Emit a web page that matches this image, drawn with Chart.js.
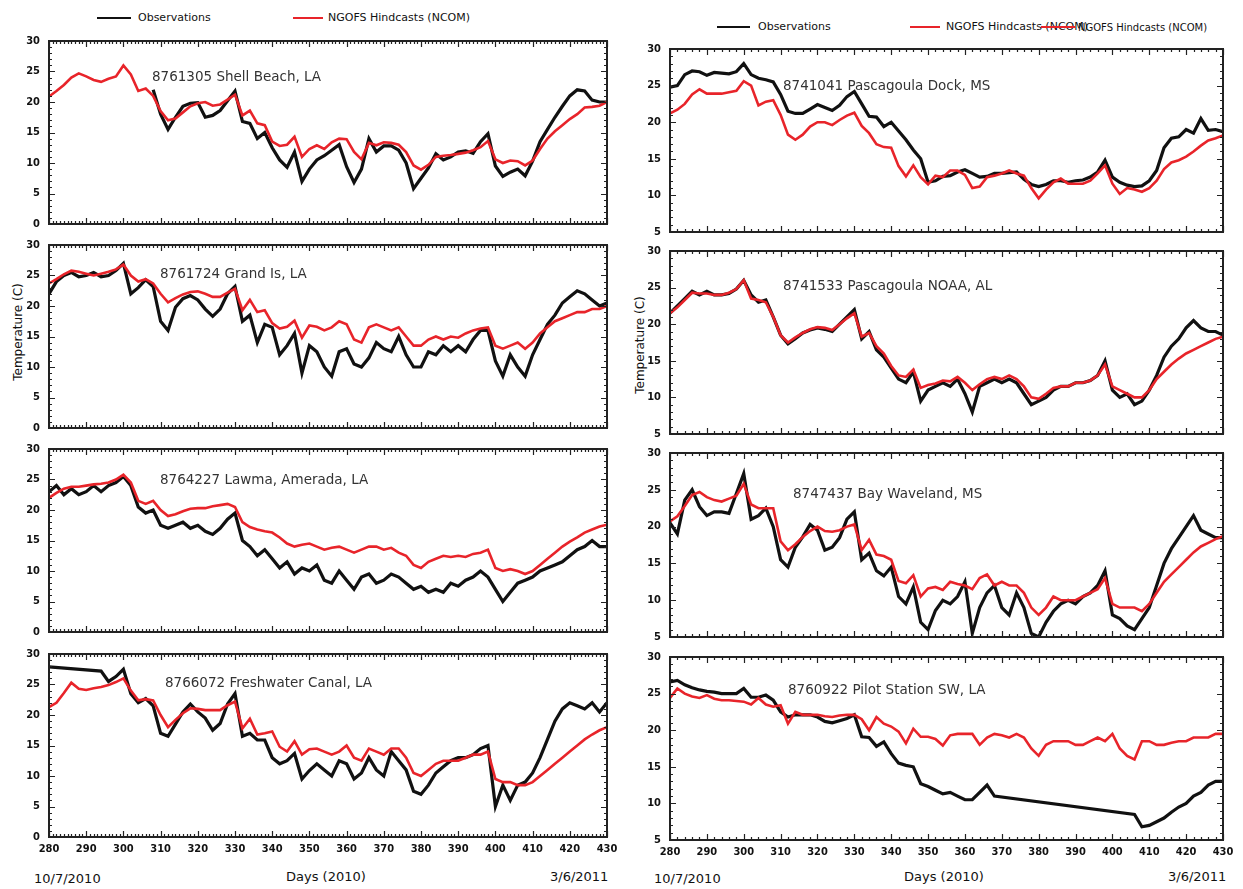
<!DOCTYPE html>
<html>
<head>
<meta charset="utf-8">
<script src="https://cdn.jsdelivr.net/npm/chart.js@4.4.1/dist/chart.umd.min.js"></script>
<style>
  html, body { margin:0; padding:0; background:#fff; }
  body { width:1243px; height:889px; position:relative; overflow:hidden; font-family:"DejaVu Sans",sans-serif; color:#111; }
  .lg-line { position:absolute; height:2px; }
  .lg-txt { position:absolute; font-size:11px; line-height:14px; white-space:nowrap; }
  .bot { position:absolute; font-size:13px; line-height:15px; white-space:nowrap; }
  .ytitle { position:absolute; font-size:12px; line-height:14px; white-space:nowrap; transform:translate(-50%,-50%) rotate(-90deg); }
  canvas { position:absolute; }
</style>
</head>
<body>
<div class="lg-line" style="left:97px;top:17px;width:34px;background:#111"></div>
<div class="lg-txt" style="left:138px;top:11px">Observations</div>
<div class="lg-line" style="left:293px;top:17px;width:30px;background:#e8242a"></div>
<div class="lg-txt" style="left:328px;top:11px">NGOFS Hindcasts (NCOM)</div>

<div class="lg-line" style="left:717px;top:26px;width:33px;background:#111"></div>
<div class="lg-txt" style="left:758px;top:20px">Observations</div>
<div class="lg-line" style="left:910px;top:26px;width:30px;background:#e8242a"></div>
<div class="lg-txt" style="left:946px;top:20px">NGOFS Hindcasts (NCOM)</div>
<div class="lg-line" style="left:1041px;top:26px;width:34px;background:#e8242a"></div>
<div class="lg-txt" style="left:1078px;top:21px;font-size:10px">NGOFS Hindcasts (NCOM)</div>

<div class="ytitle" style="left:18px;top:332px">Temperature (C)</div>
<div class="ytitle" style="left:640px;top:345px">Temperature (C)</div>

<div class="bot" style="left:34px;top:871px">10/7/2010</div>
<div class="bot" style="left:286px;top:869px">Days (2010)</div>
<div class="bot" style="left:550px;top:869px">3/6/2011</div>
<div class="bot" style="left:654px;top:871px">10/7/2010</div>
<div class="bot" style="left:904px;top:869px">Days (2010)</div>
<div class="bot" style="left:1168px;top:869px">3/6/2011</div>

<script>
// ---- categories: day of year (2010), every 2 days ----
const days = [280,282,284,286,288,290,292,294,296,298,300,302,304,306,308,310,312,314,316,318,
  320,322,324,326,328,330,332,334,336,338,340,342,344,346,348,350,352,354,356,358,
  360,362,364,366,368,370,372,374,376,378,380,382,384,386,388,390,392,394,396,398,
  400,402,404,406,408,410,412,414,416,418,420,422,424,426,428,430];
const xTicks = [280,290,300,310,320,330,340,350,360,370,380,390,400,410,420,430];

// ---- 8761305 Shell Beach, LA ----
const shellObs = [null,null,null,null,null,null,null,null,null,null,null,null,null,null,
  22.0,18.0,15.5,17.5,19.3,19.8,19.9,17.5,17.8,18.6,20.2,21.8,16.8,16.5,14.0,15.0,
  12.5,10.5,9.3,11.8,7.0,9.0,10.5,11.2,12.1,13.0,9.4,6.8,9.0,14.0,11.8,12.8,12.8,12.1,10.0,5.8,
  7.5,9.2,11.5,10.5,11.0,11.8,12.0,11.6,13.5,14.8,9.5,7.8,8.5,9.0,7.9,10.3,13.5,15.5,17.5,19.3,
  21.0,22.0,21.8,20.3,20.0,20.0];
const shellMod = [20.9,21.8,22.8,24.0,24.7,24.2,23.6,23.3,23.8,24.2,26.0,24.5,21.8,22.2,21.0,18.5,17.0,17.3,18.3,19.3,
  19.8,20.0,19.4,19.6,20.4,21.2,17.8,18.6,16.5,16.2,13.5,12.8,13.0,14.3,11.0,12.3,12.9,12.3,13.4,14.0,
  13.9,11.8,10.6,13.3,12.9,13.4,13.3,13.0,11.8,9.6,8.9,9.7,11.0,11.2,11.3,11.5,11.7,12.1,12.6,13.6,
  10.6,10.0,10.4,10.3,9.6,10.4,12.3,14.0,15.2,16.2,17.2,18.0,19.1,19.2,19.4,20.0];

// ---- 8761724 Grand Is, LA ----
const grandObs = [22.0,24.0,25.0,25.5,24.8,25.0,25.5,24.8,25.0,25.8,27.0,22.0,23.0,24.3,23.2,17.5,16.0,19.8,21.2,21.7,
  21.0,19.5,18.3,19.5,22.0,23.2,17.5,18.5,14.0,17.0,16.5,12.0,13.5,15.5,9.0,13.5,12.5,10.0,8.5,12.5,
  13.0,10.5,10.0,11.5,14.0,13.0,12.5,15.0,12.0,10.0,10.0,12.5,12.0,13.5,12.5,13.5,12.5,14.5,16.0,16.0,
  11.0,8.5,12.0,10.0,8.5,12.0,14.5,17.0,18.5,20.5,21.5,22.5,22.0,21.0,20.0,20.5];
const grandMod = [23.7,24.4,25.2,25.8,25.6,25.3,25.0,25.3,25.6,26.0,26.8,25.0,24.0,24.4,23.7,22.0,20.6,21.3,21.9,22.3,
  22.4,22.0,21.5,21.5,22.2,22.8,19.3,21.0,19.0,19.3,17.2,16.3,16.6,17.6,14.8,16.8,16.6,16.0,16.5,17.5,
  17.0,14.5,14.0,16.5,17.0,16.5,16.0,16.5,15.0,13.5,13.5,14.5,15.0,14.5,15.0,14.8,15.5,16.0,16.3,16.5,
  13.5,13.0,13.5,14.0,13.0,14.0,15.5,16.5,17.5,18.0,18.5,19.0,19.0,19.5,19.5,20.0];

// ---- 8764227 Lawma, Amerada, LA ----
const lawmaObs = [23.0,24.0,22.5,23.5,22.5,23.0,24.0,23.0,24.0,24.5,25.5,24.0,20.5,19.5,20.0,17.5,17.0,17.5,18.0,17.0,
  17.5,16.5,16.0,17.0,18.5,19.5,15.0,14.0,12.5,13.5,12.0,10.5,11.5,9.5,10.5,10.0,11.0,8.5,8.0,10.0,
  8.5,7.0,9.0,9.5,8.0,8.5,9.5,9.0,8.0,7.0,7.5,6.5,7.0,6.5,8.0,7.5,8.5,9.0,10.0,9.0,
  7.0,5.0,6.5,8.0,8.5,9.0,10.0,10.5,11.0,11.5,12.5,13.5,14.0,15.0,14.0,14.0];
const lawmaMod = [22.0,22.8,23.5,23.8,23.8,24.0,24.2,24.3,24.5,25.0,25.8,24.5,21.5,21.0,21.5,20.0,19.0,19.3,19.8,20.2,
  20.3,20.3,20.6,20.8,21.0,20.5,18.0,17.2,16.8,16.5,16.3,15.5,14.5,14.0,14.3,14.5,14.0,13.5,13.8,14.0,
  13.5,13.0,13.5,14.0,14.0,13.5,13.8,13.0,12.5,11.0,10.5,11.5,12.0,12.5,12.3,12.5,12.3,12.8,13.0,13.5,
  10.5,10.0,10.3,10.0,9.5,10.0,11.0,12.0,13.0,14.0,14.8,15.5,16.3,16.8,17.3,17.6];

// ---- 8766072 Freshwater Canal, LA ----
const freshObs = [27.9,null,null,null,null,null,null,27.2,25.5,26.3,27.5,23.5,22.0,22.7,21.5,17.0,16.5,18.5,20.5,21.8,
  20.5,19.5,17.5,18.6,21.8,23.5,16.5,17.0,15.9,15.9,13.0,12.0,12.5,13.7,9.5,10.9,12.0,11.0,10.0,12.5,
  12.0,9.5,10.5,13.0,11.0,10.0,14.0,12.5,11.0,7.5,7.0,8.5,10.5,11.5,12.5,13.0,13.0,13.5,14.5,15.0,
  5.0,8.5,6.0,8.5,9.0,10.5,13.0,16.0,19.0,21.0,22.0,21.5,21.0,22.0,20.5,22.0];
const freshMod = [21.3,22.0,23.6,25.3,24.3,24.1,24.4,24.6,24.9,25.4,26.0,24.0,22.4,22.6,22.4,20.0,18.0,19.2,20.3,21.1,
  21.0,20.8,20.8,20.8,21.6,22.2,17.8,19.4,16.8,17.0,17.3,14.8,14.0,15.7,13.5,14.4,14.5,14.0,13.5,14.0,
  15.0,13.0,12.5,14.5,14.0,13.5,14.5,14.5,13.0,10.5,10.0,11.0,12.0,12.5,12.5,12.5,13.0,13.5,13.5,14.0,
  9.5,9.0,9.0,8.5,8.5,9.0,10.0,11.0,12.0,13.0,14.0,15.0,16.0,16.8,17.5,18.0];

// ---- 8741041 Pascagoula Dock, MS ----
const dockObs = [24.8,25.0,26.5,27.0,26.9,26.4,26.8,26.7,26.6,26.9,28.0,26.5,26.0,25.8,25.5,23.8,21.5,21.2,21.2,21.8,
  22.4,22.0,21.6,22.3,23.5,24.2,22.5,20.8,20.7,19.4,20.0,18.8,17.6,16.2,15.0,11.8,12.0,12.6,12.7,13.2,
  13.5,13.0,12.5,12.6,13.0,13.0,13.1,13.2,12.2,11.5,11.2,11.5,12.0,12.0,11.8,12.0,12.1,12.5,13.2,14.8,
  12.5,11.8,11.4,11.2,11.3,12.0,13.4,16.5,17.8,18.0,19.0,18.5,20.5,18.9,19.0,18.7];
const dockMod = [21.2,21.7,22.5,23.8,24.5,23.9,23.9,23.9,24.1,24.3,25.6,25.0,22.3,22.8,23.0,21.0,18.3,17.6,18.3,19.4,
  20.0,20.0,19.6,20.3,20.9,21.3,19.5,18.5,17.0,16.6,16.5,14.0,12.6,14.1,12.5,11.5,12.7,12.5,13.4,13.4,
  12.8,11.0,11.2,12.5,12.7,13.0,13.4,13.0,12.7,11.0,9.6,10.8,11.8,12.3,11.6,11.6,11.6,12.0,13.0,14.1,
  11.6,10.2,11.0,10.8,10.5,11.0,12.0,13.6,14.5,14.8,15.3,16.0,16.8,17.5,17.8,18.2];

// ---- 8741533 Pascagoula NOAA, AL ----
const noaaObs = [21.5,22.5,23.5,24.5,24.0,24.5,24.0,24.0,24.2,24.8,26.0,24.0,23.0,23.3,21.0,18.5,17.3,18.0,18.8,19.2,
  19.5,19.3,19.0,20.0,21.0,22.0,18.0,19.0,16.5,15.5,14.0,12.5,12.0,13.5,9.5,11.0,11.5,12.0,11.5,12.5,
  10.5,8.0,11.5,12.0,12.5,12.0,12.5,12.0,10.5,9.0,9.5,10.0,11.0,11.5,11.5,12.0,12.0,12.3,13.0,15.0,
  11.0,10.0,10.5,9.0,9.5,11.0,13.0,15.5,17.0,18.0,19.5,20.5,19.5,19.0,19.0,18.5];
const noaaMod = [21.5,22.3,23.3,24.3,24.2,24.2,24.0,24.0,24.3,24.8,26.0,23.5,23.3,23.0,21.0,18.5,17.5,18.2,18.8,19.3,
  19.6,19.5,19.2,20.0,20.8,21.5,18.3,18.8,17.0,16.0,14.3,13.0,12.8,13.8,11.3,11.7,11.9,12.3,12.2,12.8,
  12.0,11.0,11.8,12.5,12.8,12.5,13.0,12.5,11.5,10.0,9.8,10.5,11.3,11.5,11.5,12.0,12.0,12.3,13.0,14.5,
  11.5,11.0,10.5,10.0,10.0,11.0,12.5,13.5,14.5,15.3,16.0,16.5,17.0,17.5,18.0,18.3];

// ---- 8747437 Bay Waveland, MS ----
const bayObs = [20.5,19.0,23.6,25.0,22.7,21.5,22.0,22.0,21.8,24.5,27.2,21.0,21.5,22.5,20.0,15.5,14.5,17.2,18.6,20.3,
  19.5,16.8,17.2,18.5,21.0,22.0,15.5,16.4,14.0,13.3,14.5,10.5,9.5,11.8,7.0,6.0,8.6,10.0,9.5,10.5,
  12.5,5.5,9.0,11.0,12.0,9.0,8.0,11.0,9.0,5.5,5.0,7.0,8.5,9.5,10.0,9.5,10.5,11.0,12.0,14.0,
  8.0,7.5,6.5,6.0,7.5,9.0,12.0,15.0,17.0,18.5,20.0,21.5,19.5,19.0,18.5,18.5];
const bayMod = [20.7,21.4,22.8,24.3,24.7,24.0,23.6,23.4,23.8,24.2,25.8,23.0,22.5,22.5,22.5,18.0,16.8,17.6,18.6,19.4,
  20.0,19.4,19.3,19.5,20.0,20.3,16.8,18.2,16.2,16.0,15.5,12.6,12.3,13.4,10.5,11.6,11.8,11.4,12.5,12.2,
  12.0,11.5,13.0,13.5,12.0,12.5,12.0,12.0,11.0,9.0,8.0,9.0,10.5,10.0,10.0,10.0,10.5,11.0,11.5,13.0,
  9.5,9.0,9.0,9.0,8.5,9.5,11.0,12.5,13.5,14.5,15.5,16.5,17.3,17.8,18.3,18.7];

// ---- 8760922 Pilot Station SW, LA ----
const pilotObs = [26.6,26.8,26.2,25.8,25.5,25.3,25.2,25.0,25.0,25.0,25.7,24.5,24.5,24.8,24.1,22.5,21.8,22.1,22.1,22.1,
  21.8,21.2,21.0,21.3,21.6,22.1,19.1,19.0,17.8,18.4,16.8,15.5,15.2,15.0,12.7,12.3,11.8,11.3,11.5,11.0,
  10.5,10.5,11.5,12.5,11.0,null,null,null,null,null,null,null,null,null,null,null,null,null,null,null,
  null,null,null,8.5,6.8,7.0,7.5,8.0,8.8,9.5,10.0,11.0,11.5,12.5,13.0,13.0];
const pilotMod = [24.4,25.7,25.0,24.6,24.4,24.8,24.3,24.1,24.1,24.0,23.9,23.5,24.4,23.5,23.2,23.4,20.9,22.5,22.1,22.1,
  22.1,21.9,21.8,22.0,22.1,22.1,21.5,20.0,21.8,20.9,20.5,19.8,18.2,20.2,19.1,19.1,18.8,17.9,19.3,19.5,
  19.5,19.5,18.0,19.0,19.5,19.3,19.0,19.5,19.0,17.5,16.5,18.0,18.5,18.5,18.5,18.0,18.0,18.5,19.0,18.5,
  19.5,17.5,16.5,16.0,18.5,18.5,18.0,18.0,18.3,18.5,18.5,19.0,19.0,19.0,19.5,19.5];

// ---- frame, inward tick marks and station label ----
const panelDecor = {
  id: 'panelDecor',
  afterDraw(chart, args, o) {
    const ctx = chart.ctx;
    const a = chart.chartArea;
    const x = chart.scales.x, y = chart.scales.y;
    ctx.save();
    ctx.font = '13.5px "DejaVu Sans", sans-serif';
    ctx.fillStyle = '#333';
    ctx.textBaseline = 'middle';
    ctx.textAlign = 'left';
    ctx.fillText(o.title, a.left + o.dx, a.top + o.dy);

    ctx.strokeStyle = '#222';
    ctx.lineWidth = 1.2;
    ctx.beginPath();
    for (let d = 280; d <= 430; d += o.xMinor) {
      const px = Math.round(x.getPixelForValue(d)) + 0.5;
      const len = (d % 10 === 0) ? 6 : 3;
      ctx.moveTo(px, a.bottom); ctx.lineTo(px, a.bottom - len);
      ctx.moveTo(px, a.top); ctx.lineTo(px, a.top + len);
    }
    for (let v = o.ymin; v <= 30; v += 1) {
      const py = Math.round(y.getPixelForValue(v)) + 0.5;
      const len = (v % 5 === 0) ? 6 : 3;
      ctx.moveTo(a.left, py); ctx.lineTo(a.left + len, py);
      ctx.moveTo(a.right, py); ctx.lineTo(a.right - len, py);
    }
    ctx.stroke();
    ctx.lineWidth = 2;
    ctx.strokeRect(Math.round(a.left), Math.round(a.top), Math.round(a.right - a.left), Math.round(a.bottom - a.top));
    ctx.restore();
  }
};

const tickFont = { family: '"DejaVu Sans Condensed","DejaVu Sans",sans-serif', size: 11, weight: 'bold' };

function makePanel(p) {
  const c = document.createElement('canvas');
  const top = p.areaTop - 12;
  const bottom = p.areaBottom + (p.showX ? 24 : 10);
  const h = bottom - top;
  c.width = p.w; c.height = h;
  c.style.cssText = `left:${p.left}px;top:${top}px;width:${p.w}px;height:${h}px`;
  document.body.appendChild(c);
  const pts = arr => days.map((d, i) => ({ x: d, y: arr[i] }));
  new Chart(c, {
    type: 'line',
    data: {
      datasets: [
        { label: 'NGOFS Hindcasts (NCOM)', data: pts(p.mod), borderColor: '#e8242a', borderWidth: 2.6,
          pointRadius: 0, spanGaps: true, tension: 0 },
        { label: 'Observations', data: pts(p.obs), borderColor: '#111111', borderWidth: 3.2,
          pointRadius: 0, spanGaps: true, tension: 0 }
      ]
    },
    options: {
      responsive: false, animation: false, devicePixelRatio: 1,
      layout: { padding: { top: 12, right: p.padRight, bottom: p.showX ? 2 : 10, left: 0 } },
      plugins: {
        legend: { display: false }, tooltip: { enabled: false },
        panelDecor: { title: p.title, dx: p.dx, dy: p.dy, xMinor: p.xMinor, ymin: p.ymin }
      },
      scales: {
        x: {
          type: 'linear', min: 280, max: 430, display: p.showX,
          grid: { display: false, drawTicks: false }, border: { display: false },
          afterBuildTicks: s => { s.ticks = xTicks.map(v => ({ value: v })); },
          ticks: { color: '#111', font: tickFont, padding: 6, maxRotation: 0, autoSkip: false },
          afterFit: s => { if (p.showX) s.height = 22; s.paddingLeft = 0; s.paddingRight = 0; }
        },
        y: {
          type: 'linear', min: p.ymin, max: 30,
          grid: { display: false, drawTicks: false }, border: { display: false },
          ticks: { stepSize: 5, color: '#111', font: tickFont, padding: 9 },
          afterFit: s => { s.width = p.yw; s.paddingTop = 0; s.paddingBottom = 0; }
        }
      }
    },
    plugins: [panelDecor]
  });
}

const L = { left: 0, w: 620, yw: 49, padRight: 13, ymin: 0, xMinor: 1 };
const R = { left: 620, w: 623, yw: 50, padRight: 20, ymin: 5, xMinor: 2 };

makePanel({ ...L, areaTop: 41,  areaBottom: 224, showX: false, obs: shellObs, mod: shellMod, title: '8761305 Shell Beach, LA', dx: 103, dy: 36 });
makePanel({ ...L, areaTop: 245, areaBottom: 428, showX: false, obs: grandObs, mod: grandMod, title: '8761724 Grand Is, LA', dx: 111, dy: 29 });
makePanel({ ...L, areaTop: 449, areaBottom: 632, showX: false, obs: lawmaObs, mod: lawmaMod, title: '8764227 Lawma, Amerada, LA', dx: 111, dy: 31 });
makePanel({ ...L, areaTop: 654, areaBottom: 837, showX: true,  obs: freshObs, mod: freshMod, title: '8766072 Freshwater Canal, LA', dx: 116, dy: 29 });

makePanel({ ...R, areaTop: 49,  areaBottom: 232, showX: false, obs: dockObs, mod: dockMod, title: '8741041 Pascagoula Dock, MS', dx: 113, dy: 37 });
makePanel({ ...R, areaTop: 251, areaBottom: 434, showX: false, obs: noaaObs, mod: noaaMod, title: '8741533 Pascagoula NOAA, AL', dx: 113, dy: 35 });
makePanel({ ...R, areaTop: 453, areaBottom: 637, showX: false, obs: bayObs, mod: bayMod, title: '8747437 Bay Waveland, MS', dx: 123, dy: 41 });
makePanel({ ...R, areaTop: 657, areaBottom: 840, showX: true,  obs: pilotObs, mod: pilotMod, title: '8760922 Pilot Station SW, LA', dx: 118, dy: 33 });
</script>
</body>
</html>
